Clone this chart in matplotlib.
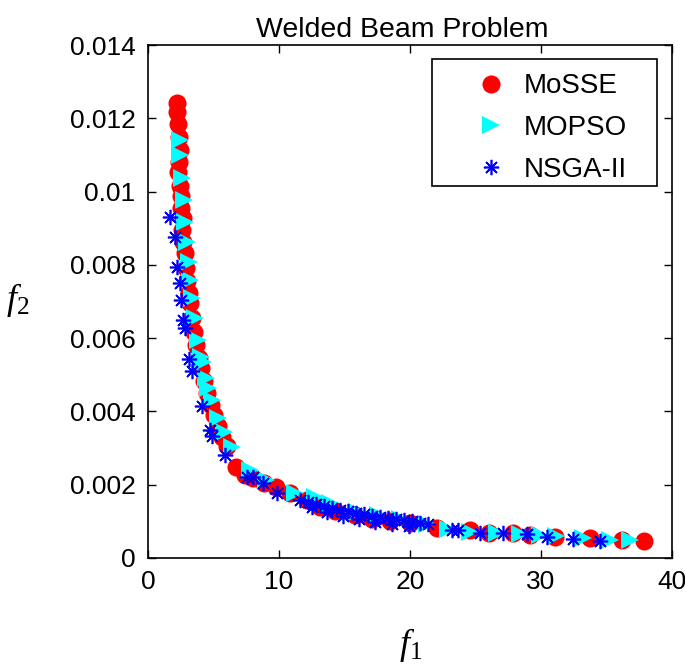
import matplotlib
matplotlib.use("Agg")
import matplotlib.pyplot as plt
from matplotlib.patches import Rectangle

# ======================
# DATA
# ======================
mosse_f1 = [2.21, 2.21, 2.29, 2.37, 2.44, 2.37, 2.29, 2.44, 2.52, 2.52, 2.67, 2.60,
            2.67, 2.82, 2.90, 2.98, 3.13, 3.21, 3.36, 3.51, 3.66, 3.89, 4.05, 4.27,
            4.50, 4.81, 5.04, 5.34, 5.65, 6.03, 6.72, 7.40, 8.02, 8.85, 9.77, 10.84,
            12.14, 13.13, 14.27, 15.80, 17.10, 18.47, 20.00, 22.06, 24.58, 26.03,
            27.86, 29.16, 31.07, 33.74, 36.18, 37.86]
mosse_f2 = [0.01241, 0.01217, 0.01184, 0.01149, 0.01113, 0.01080, 0.01053, 0.01015,
            0.00988, 0.00955, 0.00928, 0.00895, 0.00862, 0.00832, 0.00791, 0.00756,
            0.00723, 0.00696, 0.00655, 0.00617, 0.00581, 0.00546, 0.00518, 0.00483,
            0.00450, 0.00417, 0.00390, 0.00360, 0.00330, 0.00306, 0.00248, 0.00226,
            0.00218, 0.00205, 0.00194, 0.00177, 0.00158, 0.00139, 0.00128, 0.00117,
            0.00106, 0.00101, 0.00095, 0.00082, 0.00076, 0.00068, 0.00068, 0.00063,
            0.00057, 0.00055, 0.00049, 0.00046]

mopso_f1 = [2.44, 2.44, 2.60, 2.75, 2.82, 2.98, 3.13, 3.21, 3.36, 3.59, 3.82, 4.05,
            4.20, 4.43, 4.58, 4.89, 5.34, 5.80, 6.41, 7.79, 9.01, 11.22, 12.75, 13.89,
            15.95, 17.56, 19.24, 21.30, 22.90, 24.58, 26.64, 28.40, 29.92, 31.15,
            33.21, 35.27, 36.79]
mopso_f2 = [0.01141, 0.01100, 0.01037, 0.00977, 0.00917, 0.00862, 0.00808, 0.00759,
            0.00709, 0.00655, 0.00595, 0.00548, 0.00535, 0.00491, 0.00464, 0.00431,
            0.00382, 0.00344, 0.00303, 0.00240, 0.00213, 0.00177, 0.00166, 0.00150,
            0.00126, 0.00117, 0.00106, 0.00093, 0.00079, 0.00071, 0.00068, 0.00065,
            0.00063, 0.00060, 0.00055, 0.00049, 0.00049]

nsga_f1 = [1.68, 2.06, 2.21, 2.44, 2.52, 2.67, 2.82, 3.13, 3.36, 4.12, 4.73, 4.89,
           5.88, 7.56, 8.02, 8.78, 9.85, 11.60, 12.21, 12.82, 13.44, 14.05, 14.66,
           15.27, 15.88, 16.49, 17.10, 17.71, 18.32, 18.93, 19.54, 20.15, 20.76,
           21.37, 12.50, 13.70, 14.90, 16.10, 17.30, 18.60, 19.90, 23.21, 23.66,
           25.34, 27.10, 28.93, 30.46, 32.44, 34.50]
nsga_f2 = [0.00930, 0.00876, 0.00794, 0.00750, 0.00704, 0.00649, 0.00628, 0.00543,
           0.00510, 0.00415, 0.00349, 0.00333, 0.00281, 0.00221, 0.00221, 0.00205,
           0.00177, 0.00158, 0.00153, 0.00147, 0.00142, 0.00136, 0.00131, 0.00128,
           0.00123, 0.00120, 0.00115, 0.00112, 0.00109, 0.00106, 0.00104, 0.00101,
           0.00095, 0.00093, 0.00140, 0.00125, 0.00115, 0.00105, 0.00098, 0.00092,
           0.00088, 0.00076, 0.00076, 0.00068, 0.00068, 0.00065, 0.00057, 0.00052,
           0.00046]

xticks = [0, 10, 20, 30, 40]
yticks = [0, 0.002, 0.004, 0.006, 0.008, 0.01, 0.012, 0.014]
ytick_labels = ["0", "0.002", "0.004", "0.006", "0.008", "0.01", "0.012", "0.014"]

# ======================
# STYLE
# ======================
plt.rcParams["font.family"] = ["Liberation Sans", "DejaVu Sans"]
plt.rcParams["mathtext.fontset"] = "custom"
plt.rcParams["mathtext.it"] = "Liberation Serif:italic"
plt.rcParams["mathtext.rm"] = "Liberation Serif"

fig = plt.figure(figsize=(6.85, 6.65), dpi=100)
ax = fig.add_axes([0.216, 0.161, 0.765, 0.771])

ax.plot(mosse_f1, mosse_f2, "o", color="#ff0000", markersize=13,
        markeredgewidth=0, label="MoSSE")
ax.plot(mopso_f1, mopso_f2, ">", color="#00ffff", markersize=13,
        markeredgewidth=0, label="MOPSO")
ax.plot(nsga_f1, nsga_f2, marker=(8, 2, 0), linestyle="none", color="#0000ff",
        markersize=11, markeredgewidth=1.2, label="NSGA-II")

ax.set_xlim(0, 40)
ax.set_ylim(0, 0.014)
ax.set_xticks(xticks)
ax.set_xticklabels([str(v) for v in xticks])
ax.set_yticks(yticks)
ax.set_yticklabels(ytick_labels)
ax.tick_params(direction="in", length=6, width=1, labelsize=19,
               top=True, right=True, pad=9)
for s in ax.spines.values():
    s.set_linewidth(1.2)

ax.set_title("Welded Beam Problem", fontsize=20.5, pad=6, x=0.485)

# axis labels (italic serif, y label horizontal at far left)
fig.text(0.599, 0.03, r"$\mathit{f_1}$", fontsize=26, ha="center", va="center")
fig.text(0.026, 0.549, r"$\mathit{f_2}$", fontsize=26, ha="center", va="center")

# legend: frame drawn separately so the inner spacing matches
leg = ax.legend(loc="upper left", bbox_to_anchor=(0.622, 0.945),
                borderaxespad=0, borderpad=0, fontsize=20, frameon=False,
                handlelength=1.2, handletextpad=0.6, labelspacing=0.56)
ax.add_patch(Rectangle((0.542, 0.725), 0.429, 0.248, transform=ax.transAxes,
                       facecolor="white", edgecolor="black", linewidth=1.2,
                       zorder=4))
leg.set_zorder(5)

fig.savefig("out.png", dpi=100)
